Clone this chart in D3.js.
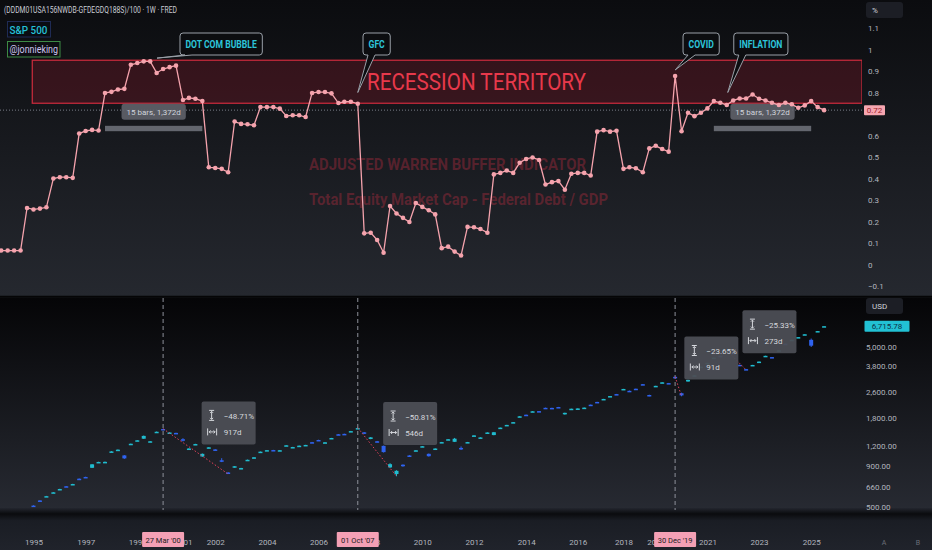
<!DOCTYPE html>
<html>
<head>
<meta charset="utf-8">
<script src="https://cdn.jsdelivr.net/npm/d3@7"></script>
<style>
  html, body { margin: 0; padding: 0; background: #131519; }
  svg { display: block; font-family: Roboto, "Noto Sans", sans-serif; }
</style>
</head>
<body>
<div id="chart"></div>
<script>
// Chart size and pane layout
const width = 932;
const height = 550;
const plotRight = 862;
const topPane = { y0: 0, y1: 296 };
const botPane = { y0: 298, y1: 510 };
const axisColor = '#b2b5be';

// ---- data ----
// quarterly points, first one Jan 1994
const firstQuarter = new Date(1994, 0, 1);

// adjusted buffett indicator (market cap - federal debt) / GDP
const awbiValues = [
  0.065, 0.065, 0.065, 0.065,
  0.263, 0.256, 0.26, 0.266,
  0.40, 0.406, 0.406, 0.403,
  0.609, 0.621, 0.626, 0.623,
  0.798, 0.803, 0.814, 0.817,
  0.929, 0.937, 0.945, 0.945,
  0.891, 0.909, 0.918, 0.925,
  0.765, 0.775, 0.771, 0.760,
  0.452, 0.449, 0.445, 0.429,
  0.665, 0.654, 0.652, 0.648,
  0.732, 0.732, 0.732, 0.725,
  0.691, 0.694, 0.694, 0.686,
  0.798, 0.802, 0.802, 0.796,
  0.751, 0.757, 0.757, 0.748,
  0.145, 0.148, 0.114, 0.055,
  0.272, 0.237, 0.217, 0.198,
  0.286, 0.268, 0.252, 0.233,
  0.076, 0.083, 0.06, 0.042,
  0.175, 0.173, 0.165, 0.148,
  0.419, 0.426, 0.437, 0.426,
  0.473, 0.491, 0.498, 0.486,
  0.372, 0.383, 0.388, 0.348,
  0.422, 0.426, 0.426, 0.414,
  0.618, 0.625, 0.618, 0.622,
  0.445, 0.452, 0.448, 0.429,
  0.540, 0.552, 0.537, 0.525,
  0.877, 0.620, 0.706, 0.690,
  0.706, 0.726, 0.760, 0.752,
  0.742, 0.763, 0.772, 0.772,
  0.791, 0.771, 0.763, 0.752,
  0.742, 0.752, 0.745, 0.729,
  0.740, 0.760, 0.732, 0.718
];

// S&P 500 weekly candle at each quarter start
const spxOpen = [
  466, 448, 444, 462,   459, 508, 547, 578,   611, 641, 671, 688,   748, 767, 875, 945,
  948, 1100, 1128, 1046,   1226, 1290, 1330, 1270,   1455, 1530, 1445, 1446,   1320, 1140, 1220, 1030,
  1162, 1140, 975, 818,   880, 862, 972, 1003,   1095, 1120, 1130, 1120,   1202, 1172, 1195, 1208,
  1265, 1306, 1253, 1334,   1418, 1426, 1474, 1538,   1458, 1325, 1282, 1200,   880, 800, 915, 1045,
  1115, 1185, 1070, 1145,   1256, 1310, 1272, 1165,   1256, 1385, 1344, 1444,   1402, 1548, 1608, 1672,
  1822, 1878, 1960, 1978,   2075, 2072, 2098, 1910,   2030, 2042, 2050, 2170,   2258, 2342, 2442, 2528,
  2695, 2650, 2730, 2915,   2495, 2830, 2980, 2962,   3240, 2560, 3030, 3285,   3722, 3935, 4245, 4385,
  4700, 4570, 3850, 3620,   3815, 4000, 4355, 4305,   4715, 5220, 5480, 5705,   5940, 5520, 6200, 6690
];
const spxHigh = [
  472, 450, 448, 464,   463, 510, 549, 584,   617, 647, 673, 695,   751, 770, 922, 955,
  958, 1112, 1140, 1050,   1240, 1302, 1392, 1285,   1475, 1535, 1460, 1450,   1340, 1160, 1236, 1075,
  1178, 1145, 1005, 822,   897, 875, 985, 1020,   1106, 1130, 1133, 1130,   1212, 1183, 1206, 1218,
  1270, 1311, 1266, 1346,   1422, 1430, 1488, 1556,   1462, 1362, 1288, 1205,   935, 845, 920, 1050,
  1128, 1197, 1075, 1158,   1270, 1323, 1345, 1190,   1270, 1398, 1358, 1458,   1466, 1562, 1624, 1690,
  1840, 1882, 1978, 1982,   2080, 2078, 2102, 1935,   2050, 2058, 2085, 2175,   2262, 2360, 2460, 2534,
  2725, 2660, 2735, 2920,   2505, 2850, 3000, 2968,   3245, 2580, 3110, 3320,   3760, 3968, 4280, 4395,
  4745, 4580, 3860, 3630,   3850, 4040, 4390, 4310,   4750, 5230, 5530, 5745,   5985, 5620, 6265, 6735
];
const spxLow = [
  464, 444, 443, 458,   457, 503, 542, 576,   609, 639, 664, 686,   741, 760, 872, 940,
  944, 1096, 1124, 995,   1222, 1285, 1326, 1265,   1448, 1510, 1440, 1430,   1280, 1135, 1215, 1025,
  1158, 1125, 950, 800,   876, 858, 968, 1000,   1092, 1118, 1118, 1116,   1198, 1168, 1192, 1204,
  1252, 1293, 1250, 1330,   1402, 1412, 1470, 1534,   1422, 1320, 1262, 1090,   875, 775, 888, 1022,
  1112, 1180, 1028, 1140,   1252, 1305, 1268, 1130,   1252, 1380, 1340, 1440,   1398, 1542, 1602, 1668,
  1815, 1860, 1955, 1955,   2055, 2055, 2080, 1880,   2025, 2036, 2045, 2150,   2240, 2338, 2438, 2510,
  2690, 2625, 2710, 2885,   2450, 2825, 2970, 2940,   3210, 2450, 3020, 3275,   3715, 3928, 4238, 4350,
  4695, 4530, 3800, 3580,   3810, 3995, 4350, 4270,   4710, 5180, 5475, 5700,   5935, 4980, 6195, 6680
];
const spxClose = [
  469, 445, 447, 461,   462, 505, 544, 582,   615, 645, 667, 693,   744, 763, 920, 952,
  953, 1108, 1136, 1002,   1237, 1300, 1385, 1282,   1470, 1518, 1455, 1436,   1295, 1155, 1232, 1070,
  1175, 1128, 958, 803,   895, 872, 982, 1018,   1104, 1128, 1122, 1127,   1210, 1180, 1203, 1216,
  1255, 1297, 1263, 1344,   1406, 1416, 1484, 1550,   1428, 1356, 1268, 1097,   922, 838, 895, 1027,
  1126, 1194, 1034, 1155,   1267, 1320, 1330, 1155,   1267, 1395, 1355, 1455,   1460, 1560, 1622, 1688,
  1836, 1864, 1974, 1960,   2058, 2060, 2084, 1930,   2048, 2056, 2080, 2152,   2243, 2357, 2457, 2514,
  2722, 2632, 2714, 2890,   2470, 2846, 2995, 2945,   3215, 2480, 3100, 3312,   3752, 3962, 4272, 4358,
  4735, 4540, 3810, 3590,   3845, 4035, 4385, 4280,   4745, 5190, 5525, 5740,   5980, 5074, 6260, 6715.78
];

const yearTicks = [1995, 1997, 1999, 2001, 2002, 2004, 2006, 2008, 2010, 2012, 2014, 2016, 2018, 2019, 2021, 2023, 2025];
const ratioTicks = [-0.1, 0, 0.1, 0.2, 0.3, 0.4, 0.5, 0.6, 0.8, 0.9, 1, 1.1];
const priceTicks = [500, 660, 900, 1200, 1800, 2600, 3800, 5000];

const eventMarks = [
  { date: new Date(2000, 2, 27), label: "27 Mar '00" },
  { date: new Date(2007, 9, 1), label: "01 Oct '07" },
  { date: new Date(2019, 11, 30), label: "30 Dec '19" }
];

const callouts = [
  { text: 'DOT COM BUBBLE', tipDate: new Date(2000, 0, 1), tipValue: 0.96, boxDate: new Date(2000, 10, 20) },
  { text: 'GFC', tipDate: new Date(2007, 9, 1), tipValue: 0.80, boxDate: new Date(2007, 11, 14) },
  { text: 'COVID', tipDate: new Date(2020, 0, 1), tipValue: 0.905, boxDate: new Date(2020, 3, 20) },
  { text: 'INFLATION', tipDate: new Date(2022, 0, 10), tipValue: 0.80, boxDate: new Date(2022, 3, 5) }
];

// quarter indexes of the drawdown measurements
const drawdowns = [
  { from: 25, to: 35, pct: '\u221248.71%', days: '917d' },
  { from: 55, to: 61, pct: '\u221250.81%', days: '546d' },
  { from: 104, to: 105, pct: '\u221223.65%', days: '91d' },
  { from: 112, to: 115, pct: '\u221225.33%', days: '273d' }
];

const dateRanges = [
  { from: 16, to: 31, top: 0.645, bottom: 0.62, label: '15 bars, 1,372d' },
  { from: 110, to: 125, top: 0.645, bottom: 0.62, label: '15 bars, 1,372d' }
];

const recessionZone = { from: new Date(1995, 2, 10), top: 0.95, bottom: 0.75 };

// each quarterly value sits on the weekly bar (Monday) that holds the quarter start
const quarters = awbiValues.map((_, i) => d3.timeMonday.floor(d3.timeMonth.offset(firstQuarter, i * 3)));

// ---- scales ----
const x = d3.scaleTime()
  .domain([new Date(1993, 11, 10), new Date(2027, 0, 20)])
  .range([0, 858]);
const yTop = d3.scaleLinear().domain([-0.1, 1.1]).range([286, 28]);
const yBot = d3.scaleLog().domain([500, 5000]).range([506.7, 346.7]);

const svg = d3.select('#chart')
  .append('svg')
  .attr('width', width)
  .attr('height', height);

const defs = svg.append('defs');

function vGradient(id, stops) {
  const g = defs.append('linearGradient').attr('id', id)
    .attr('x1', 0).attr('y1', 0).attr('x2', 0).attr('y2', 1);
  stops.forEach(([o, c]) => g.append('stop').attr('offset', o).attr('stop-color', c));
}
vGradient('bgTop', [[0, '#0b0c0f'], [1, '#25282f']]);
vGradient('bgBot', [[0, '#050507'], [1, '#272a32']]);
vGradient('bgAxis', [[0, '#23262e'], [0.14, '#0a0b0e'], [0.3, '#1a1d24'], [1, '#20232b']]);

defs.append('clipPath').attr('id', 'clipTop').append('rect')
  .attr('x', 0).attr('y', topPane.y0).attr('width', plotRight).attr('height', topPane.y1 - topPane.y0);
defs.append('clipPath').attr('id', 'clipBot').append('rect')
  .attr('x', 0).attr('y', botPane.y0).attr('width', plotRight).attr('height', botPane.y1 - botPane.y0);

// backgrounds
svg.append('rect').attr('x', 0).attr('y', topPane.y0).attr('width', width)
  .attr('height', topPane.y1 - topPane.y0).attr('fill', 'url(#bgTop)');
svg.append('rect').attr('x', 0).attr('y', topPane.y1).attr('width', width)
  .attr('height', botPane.y0 - topPane.y1).attr('fill', '#0d0e11');
svg.append('rect').attr('x', 0).attr('y', botPane.y0).attr('width', width)
  .attr('height', botPane.y1 - botPane.y0).attr('fill', 'url(#bgBot)');
svg.append('rect').attr('x', 0).attr('y', botPane.y1 - 2).attr('width', width)
  .attr('height', height - botPane.y1 + 2).attr('fill', 'url(#bgAxis)');

// squeeze a text node to a share of its natural width
function condense(sel, k) {
  sel.each(function () {
    const w = this.getComputedTextLength();
    d3.select(this).attr('textLength', w * k).attr('lengthAdjust', 'spacingAndGlyphs');
  });
}

// ================= top pane =================
const topG = svg.append('g').attr('clip-path', 'url(#clipTop)');

// watermark captions
topG.append('text')
  .attr('x', 309).attr('y', 170)
  .attr('fill', 'rgba(190,45,65,0.38)')
  .attr('font-size', 17).attr('font-weight', 700)
  .text('ADJUSTED WARREN BUFFER INDICATOR')
  .attr('textLength', 277).attr('lengthAdjust', 'spacingAndGlyphs');
topG.append('text')
  .attr('x', 309).attr('y', 205)
  .attr('fill', 'rgba(190,45,65,0.38)')
  .attr('font-size', 17).attr('font-weight', 700)
  .text('Total Equity Market Cap - Federal Debt / GDP')
  .attr('textLength', 299).attr('lengthAdjust', 'spacingAndGlyphs');

// recession territory box
topG.append('rect')
  .attr('x', x(recessionZone.from))
  .attr('y', yTop(recessionZone.top))
  .attr('width', plotRight - x(recessionZone.from))
  .attr('height', yTop(recessionZone.bottom) - yTop(recessionZone.top))
  .attr('fill', 'rgba(160,25,42,0.26)')
  .attr('stroke', '#c42a3b')
  .attr('stroke-width', 1.3);

topG.append('text')
  .attr('x', 367).attr('y', 90)
  .attr('fill', '#e8394b')
  .attr('font-size', 24)
  .text('RECESSION TERRITORY')
  .attr('textLength', 219).attr('lengthAdjust', 'spacingAndGlyphs');

// last value dotted line
const lastValue = awbiValues[awbiValues.length - 1];
topG.append('line')
  .attr('x1', 0).attr('x2', plotRight)
  .attr('y1', yTop(lastValue)).attr('y2', yTop(lastValue))
  .attr('stroke', '#7a7d86').attr('stroke-width', 1)
  .attr('stroke-dasharray', '1,2');

// date range tools
dateRanges.forEach((r) => {
  const x0 = x(quarters[r.from]);
  const x1 = x(quarters[r.to]);
  const yb = yTop(r.top);
  topG.append('rect')
    .attr('x', x0).attr('y', yb)
    .attr('width', x1 - x0).attr('height', yTop(r.bottom) - yb)
    .attr('fill', 'rgba(125,128,138,0.75)');
  const cx = (x0 + x1) / 2;
  const lbl = topG.append('g');
  const t = lbl.append('text')
    .attr('x', cx).attr('y', yb - 11)
    .attr('text-anchor', 'middle')
    .attr('fill', '#d1d4dc').attr('font-size', 8)
    .text(r.label);
  const w = t.node().getComputedTextLength() + 10;
  lbl.insert('rect', 'text')
    .attr('x', cx - w / 2).attr('y', yb - 22)
    .attr('width', w).attr('height', 16).attr('rx', 3)
    .attr('fill', 'rgba(95,98,106,0.9)');
});

// indicator line with dots
const line = d3.line()
  .x((d, i) => x(quarters[i]))
  .y((d) => yTop(d));

topG.append('path')
  .datum(awbiValues)
  .attr('d', line)
  .attr('fill', 'none')
  .attr('stroke', '#f5a3ad')
  .attr('stroke-width', 1.3);

topG.selectAll('circle.pt')
  .data(awbiValues)
  .enter()
  .append('circle')
  .attr('class', 'pt')
  .attr('cx', (d, i) => x(quarters[i]))
  .attr('cy', (d) => yTop(d))
  .attr('r', 2.3)
  .attr('fill', '#f5a3ad');

// callouts
function calloutPath(bx, by, w, h, tx, ty) {
  const r = 3;
  const b0 = bx + 5;
  const b1 = bx + 12;
  return `M${bx + r},${by} H${bx + w - r} Q${bx + w},${by} ${bx + w},${by + r} V${by + h - r} ` +
    `Q${bx + w},${by + h} ${bx + w - r},${by + h} H${b1} L${tx},${ty} L${b0},${by + h} ` +
    `H${bx + r} Q${bx},${by + h} ${bx},${by + h - r} V${by + r} Q${bx},${by} ${bx + r},${by} Z`;
}

callouts.forEach((c) => {
  const g = topG.append('g');
  const bx = x(c.boxDate);
  const by = 33;
  const t = g.append('text')
    .attr('x', bx + 5.5).attr('y', by + 15)
    .attr('fill', '#2cc4d9')
    .attr('font-size', 10).attr('font-weight', 700)
    .text(c.text);
  condense(t, 0.86);
  const w = +t.attr('textLength') + 11;
  g.insert('path', 'text')
    .attr('d', calloutPath(bx, by, w, 22, x(c.tipDate), yTop(c.tipValue)))
    .attr('fill', '#0c0d10')
    .attr('stroke', '#9aa0a8')
    .attr('stroke-width', 1);
});

// ================= bottom pane =================
const botG = svg.append('g').attr('clip-path', 'url(#clipBot)');

eventMarks.forEach((m) => {
  botG.append('line')
    .attr('x1', x(m.date)).attr('x2', x(m.date))
    .attr('y1', botPane.y0).attr('y2', botPane.y1)
    .attr('stroke', '#8e919a').attr('stroke-width', 1)
    .attr('stroke-dasharray', '4,3');
});

const upColor = '#20bccf';
const downColor = '#2f63f0';

const candles = botG.selectAll('g.candle')
  .data(quarters)
  .enter()
  .append('g')
  .attr('class', 'candle')
  .attr('fill', (d, i) => (spxClose[i] >= spxOpen[i] ? upColor : downColor))
  .attr('stroke', (d, i) => (spxClose[i] >= spxOpen[i] ? upColor : downColor));

candles.append('line')
  .attr('x1', (d) => x(d)).attr('x2', (d) => x(d))
  .attr('y1', (d, i) => yBot(spxHigh[i]))
  .attr('y2', (d, i) => yBot(spxLow[i]))
  .attr('stroke-width', 1);

candles.append('rect')
  .attr('x', (d) => x(d) - 2)
  .attr('width', 4)
  .attr('y', (d, i) => yBot(Math.max(spxOpen[i], spxClose[i])))
  .attr('height', (d, i) => Math.max(1.5, Math.abs(yBot(spxOpen[i]) - yBot(spxClose[i]))))
  .attr('stroke', 'none');

// drawdown measurements
function vRangeIcon(g, cx, cy) {
  g.append('path')
    .attr('d', `M${cx - 2.5},${cy - 5} H${cx + 2.5} M${cx - 2.5},${cy + 5} H${cx + 2.5} M${cx},${cy - 4} V${cy + 4} ` +
      `M${cx - 1.5},${cy - 2.5} L${cx},${cy - 4} L${cx + 1.5},${cy - 2.5} M${cx - 1.5},${cy + 2.5} L${cx},${cy + 4} L${cx + 1.5},${cy + 2.5}`)
    .attr('fill', 'none').attr('stroke', '#d5d7dc').attr('stroke-width', 1);
}
function hRangeIcon(g, cx, cy) {
  g.append('path')
    .attr('d', `M${cx - 4.5},${cy - 3.5} V${cy + 3.5} M${cx + 4.5},${cy - 3.5} V${cy + 3.5} M${cx - 3},${cy} H${cx + 3} ` +
      `M${cx - 1.5},${cy - 1.5} L${cx - 3},${cy} L${cx - 1.5},${cy + 1.5} M${cx + 1.5},${cy - 1.5} L${cx + 3},${cy} L${cx + 1.5},${cy + 1.5}`)
    .attr('fill', 'none').attr('stroke', '#d5d7dc').attr('stroke-width', 1);
}

const ddLayer = svg.append('g');
drawdowns.forEach((d) => {
  const x0 = x(quarters[d.from]);
  const y0 = yBot(spxHigh[d.from]);
  const x1 = x(quarters[d.to]);
  const y1 = yBot(spxLow[d.to]);
  botG.append('line')
    .attr('x1', x0).attr('y1', y0).attr('x2', x1).attr('y2', y1)
    .attr('stroke', '#e2405a').attr('stroke-width', 1)
    .attr('stroke-dasharray', '1.5,2');

  const bx = (x0 + x1) / 2 + 6;
  const by = (y0 + y1) / 2 - 50;
  const g = ddLayer.append('g');
  g.append('rect')
    .attr('x', bx).attr('y', by).attr('width', 54).attr('height', 43).attr('rx', 2)
    .attr('fill', 'rgba(76,78,85,0.95)');
  vRangeIcon(g, bx + 10, by + 14);
  hRangeIcon(g, bx + 10.5, by + 30.5);
  g.append('text').attr('x', bx + 22).attr('y', by + 17.5)
    .attr('fill', '#d5d7dc').attr('font-size', 8).text(d.pct);
  g.append('text').attr('x', bx + 22).attr('y', by + 33.5)
    .attr('fill', '#d5d7dc').attr('font-size', 8).text(d.days);
});

// pane separator
svg.append('line')
  .attr('x1', 0).attr('x2', width)
  .attr('y1', topPane.y1 + 0.5).attr('y2', topPane.y1 + 0.5)
  .attr('stroke', '#050506').attr('stroke-width', 1.5);

// ================= axes =================
const topAxis = d3.axisRight(yTop)
  .tickValues(ratioTicks)
  .tickSize(0).tickPadding(0)
  .tickFormat((d) => (d < 0 ? '\u2212' + Math.abs(d) : d3.format('~g')(d)));

svg.append('g')
  .attr('transform', 'translate(868,0)')
  .call(topAxis)
  .call((g) => g.select('.domain').remove())
  .attr('font-size', 8).attr('font-family', null)
  .selectAll('text').attr('fill', axisColor);

const priceAxis = d3.axisRight(yBot)
  .tickValues(priceTicks)
  .tickSize(0).tickPadding(0)
  .tickFormat(d3.format(',.2f'));

svg.append('g')
  .attr('transform', 'translate(866,0)')
  .call(priceAxis)
  .call((g) => g.select('.domain').remove())
  .attr('font-size', 8).attr('font-family', null)
  .selectAll('text').attr('fill', axisColor);

// a year label sits on the first weekly bar that starts inside that year
const yearBars = yearTicks.map((y) => quarters.find((q) => q.getFullYear() === y));

const timeAxis = d3.axisBottom(x)
  .tickValues(yearBars)
  .tickSize(0).tickPadding(0)
  .tickFormat(d3.timeFormat('%Y'));

svg.append('g')
  .attr('transform', 'translate(0,542)')
  .call(timeAxis)
  .call((g) => g.select('.domain').remove())
  .attr('font-size', 8).attr('font-family', null)
  .selectAll('text')
  .attr('fill', axisColor)
  .attr('y', 0).attr('dy', '0.35em');

['A', 'B'].forEach((s, i) => {
  svg.append('text').attr('x', 884 + i * 34).attr('y', 545)
    .attr('text-anchor', 'middle')
    .attr('fill', '#6b6e78').attr('font-size', 7).text(s);
});

// date marks on the time axis
eventMarks.forEach((m) => {
  const cx = x(m.date);
  svg.append('rect')
    .attr('x', cx - 21).attr('y', 532).attr('width', 42).attr('height', 15).attr('rx', 1)
    .attr('fill', '#f4a0b5');
  svg.append('text')
    .attr('x', cx).attr('y', 542.5)
    .attr('text-anchor', 'middle')
    .attr('fill', '#1b1c22').attr('font-size', 7.5)
    .text(m.label);
});

// unit boxes
[['%', 2], ['USD', 298]].forEach(([u, y]) => {
  svg.append('rect').attr('x', 866).attr('y', y).attr('width', 37).attr('height', 16).attr('rx', 3)
    .attr('fill', '#1c1e25');
  svg.append('text').attr('x', 872).attr('y', y + 11)
    .attr('fill', '#d1d4dc').attr('font-size', 8).text(u);
});

// last value labels
svg.append('rect')
  .attr('x', 864).attr('y', yTop(lastValue) - 5).attr('width', 21).attr('height', 10).attr('rx', 1)
  .attr('fill', '#f6a6b0');
svg.append('text')
  .attr('x', 874.5).attr('y', yTop(lastValue) + 3)
  .attr('text-anchor', 'middle')
  .attr('fill', '#9e1d2c').attr('font-size', 8)
  .text(d3.format('.2f')(lastValue));

const lastPrice = spxClose[spxClose.length - 1];
svg.append('rect')
  .attr('x', 864.5).attr('y', yBot(lastPrice) - 5.5).attr('width', 45).attr('height', 11).attr('rx', 1)
  .attr('fill', '#22c1d4');
svg.append('text')
  .attr('x', 887).attr('y', yBot(lastPrice) + 3)
  .attr('text-anchor', 'middle')
  .attr('fill', '#0d3146').attr('font-size', 8)
  .text(d3.format(',.2f')(lastPrice));

// header texts
svg.append('text')
  .attr('x', 4).attr('y', 12.5)
  .attr('fill', '#c9ccd4').attr('font-size', 8.5)
  .text('(DDDM01USA156NWDB-GFDEGDQ188S)/100 \u00b7 1W \u00b7 FRED')
  .attr('textLength', 173).attr('lengthAdjust', 'spacingAndGlyphs');

svg.append('rect').attr('x', 7.5).attr('y', 21.5).attr('width', 43).attr('height', 15.5)
  .attr('fill', '#0a0c12').attr('stroke', '#1f2b55').attr('stroke-width', 1);
svg.append('text').attr('x', 9.5).attr('y', 33.5)
  .attr('fill', '#25c0d6').attr('font-size', 11).attr('font-weight', 500)
  .text('S&P 500')
  .attr('textLength', 38).attr('lengthAdjust', 'spacingAndGlyphs');

svg.append('rect').attr('x', 7.5).attr('y', 41.5).attr('width', 52.5).attr('height', 15.5)
  .attr('fill', '#0d0e12').attr('stroke', '#3d8a45').attr('stroke-width', 1);
svg.append('text').attr('x', 9.5).attr('y', 53)
  .attr('fill', '#cdc5ef').attr('font-size', 10)
  .text('@jonnieking')
  .attr('textLength', 48.5).attr('lengthAdjust', 'spacingAndGlyphs');
</script>
</body>
</html>
